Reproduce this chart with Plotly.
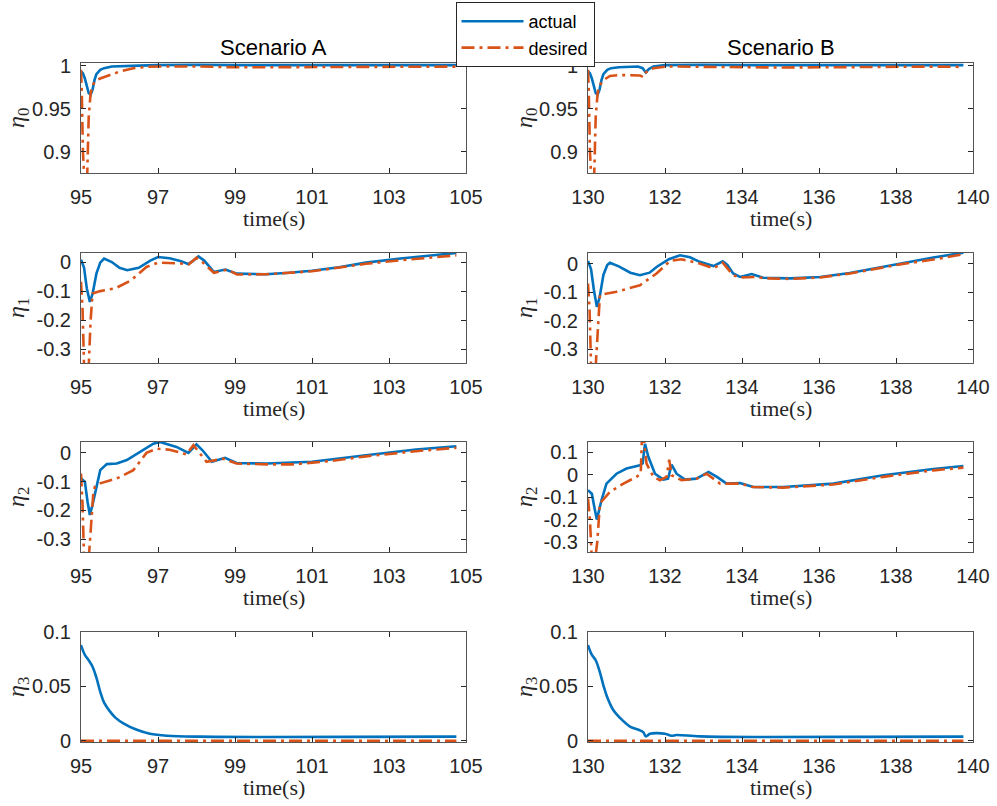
import plotly.graph_objects as go

# ---------------- data ----------------
# Scenario A
tA_e0_act = [95.0, 95.05, 95.1, 95.15, 95.2, 95.25, 95.3, 95.35, 95.4, 95.5, 95.6, 95.8, 96.0, 96.5, 97, 98, 99, 100, 101, 102, 103, 104, 104.75]
A_e0_act = [0.993, 0.991, 0.985, 0.975, 0.968, 0.966, 0.972, 0.983, 0.990, 0.995, 0.997, 0.999, 0.9995, 1.0, 1.0005, 1.001, 1.0005, 1.0005, 1.0005, 1.0005, 1.001, 1.001, 1.0005]
tA_e0_des = [95.0, 95.02, 95.05, 95.08, 95.12, 95.16, 95.2, 95.25, 95.3, 95.36, 95.5, 95.75, 96.0, 96.36, 96.7, 97.05, 98, 99, 100, 101, 102, 103, 104, 104.75]
A_e0_des = [0.995, 0.97, 0.90, 0.84, 0.84, 0.87, 0.94, 0.968, 0.976, 0.982, 0.985, 0.989, 0.993, 0.997, 0.9985, 0.999, 0.999, 0.998, 0.998, 0.9982, 0.9985, 0.9988, 0.9988, 0.9988]

tA_e1_act = [95.0, 95.08, 95.15, 95.23, 95.3, 95.4, 95.5, 95.6, 95.8, 96.0, 96.2, 96.5, 96.8, 97.0, 97.3, 97.6, 97.78, 97.9, 98.05, 98.2, 98.45, 98.6, 98.75, 99.05, 99.4, 99.8, 100.4, 101.0, 101.7, 102.4, 103.3, 104.0, 104.75]
A_e1_act = [0.008, -0.02, -0.09, -0.137, -0.11, -0.04, -0.002, 0.012, 0.0, -0.02, -0.028, -0.02, 0.005, 0.017, 0.013, 0.003, -0.007, 0.003, 0.019, 0.005, -0.034, -0.03, -0.026, -0.04, -0.041, -0.042, -0.037, -0.03, -0.018, -0.002, 0.012, 0.022, 0.031]
tA_e1_des = [95.0, 95.04, 95.08, 95.14, 95.2, 95.25, 95.3, 95.5, 95.9, 96.3, 96.7, 97.0, 97.6, 97.8, 98.0, 98.15, 98.45, 98.8, 99.05, 99.8, 101.0, 102.4, 103.3, 104.75]
A_e1_des = [-0.068, -0.16, -0.36, -0.40, -0.36, -0.2, -0.108, -0.1, -0.09, -0.063, -0.017, -0.002, -0.005, -0.008, 0.015, 0.0, -0.037, -0.026, -0.043, -0.042, -0.032, -0.006, 0.006, 0.023]

tA_e2_act = [95.0, 95.1, 95.17, 95.23, 95.3, 95.4, 95.5, 95.67, 95.93, 96.19, 96.53, 96.88, 97.05, 97.48, 97.79, 97.88, 98.0, 98.15, 98.4, 98.74, 99.04, 99.82, 101.0, 102.4, 103.7, 104.75]
A_e2_act = [-0.089, -0.1, -0.17, -0.216, -0.18, -0.118, -0.06, -0.039, -0.037, -0.025, 0.003, 0.032, 0.038, 0.021, 0.0, 0.012, 0.03, 0.01, -0.031, -0.017, -0.035, -0.037, -0.031, -0.008, 0.012, 0.023]
tA_e2_des = [95.0, 95.04, 95.08, 95.14, 95.2, 95.26, 95.32, 95.36, 95.5, 95.93, 96.36, 96.7, 96.97, 97.3, 97.74, 97.92, 98.08, 98.26, 98.7, 99.04, 99.82, 100.5, 101.5, 102.4, 103.7, 104.75]
A_e2_des = [-0.072, -0.18, -0.37, -0.40, -0.37, -0.25, -0.14, -0.118, -0.106, -0.089, -0.06, 0.0, 0.015, 0.011, -0.005, 0.027, 0.0, -0.031, -0.02, -0.037, -0.04, -0.04, -0.028, -0.012, 0.006, 0.018]

tA_e3_act = [95.0, 95.05, 95.1, 95.2, 95.3, 95.4, 95.5, 95.6, 95.75, 95.9, 96.1, 96.45, 96.79, 97.23, 98.1, 99.82, 102.0, 104.75]
A_e3_act = [0.088, 0.083, 0.079, 0.074, 0.068, 0.058, 0.045, 0.035, 0.027, 0.021, 0.016, 0.01, 0.0064, 0.0046, 0.0037, 0.0034, 0.0035, 0.0037]
tA_e3_des = [95.0, 104.75]
A_e3_des = [0.0, 0.0]

# Scenario B
tB_e0_act = [130.0, 130.05, 130.1, 130.15, 130.2, 130.25, 130.3, 130.35, 130.4, 130.5, 130.6, 130.8, 131.0, 131.3, 131.42, 131.5, 131.58, 131.7, 132.0, 133.0, 134.0, 135.0, 136.0, 137.0, 138.0, 139.0, 139.75]
B_e0_act = [0.993, 0.991, 0.985, 0.975, 0.968, 0.966, 0.972, 0.983, 0.990, 0.995, 0.997, 0.998, 0.9985, 0.999, 0.997, 0.992, 0.996, 0.999, 1.0005, 1.001, 1.0005, 1.0005, 1.0005, 1.001, 1.001, 1.0005, 1.0005]
tB_e0_des = [130.0, 130.02, 130.05, 130.08, 130.12, 130.16, 130.2, 130.25, 130.3, 130.4, 130.57, 130.8, 131.2, 131.35, 131.44, 131.5, 131.7, 132.04, 133.0, 134.0, 135.0, 136.0, 137.0, 138.0, 139.0, 139.75]
B_e0_des = [0.995, 0.97, 0.90, 0.84, 0.84, 0.87, 0.94, 0.968, 0.977, 0.983, 0.988, 0.989, 0.989, 0.9885, 0.9865, 0.992, 0.997, 0.999, 0.9985, 0.998, 0.9978, 0.998, 0.9985, 0.9988, 0.9988, 0.9985]

tB_e1_act = [130.0, 130.08, 130.15, 130.23, 130.3, 130.4, 130.5, 130.57, 130.8, 131.1, 131.35, 131.6, 131.78, 132.1, 132.39, 132.65, 132.9, 133.26, 133.5, 133.62, 133.77, 133.95, 134.25, 134.55, 135.25, 136.03, 136.8, 138.1, 138.97, 139.75]
B_e1_act = [0.009, -0.02, -0.09, -0.152, -0.12, -0.04, -0.005, 0.003, -0.01, -0.032, -0.041, -0.032, -0.012, 0.015, 0.029, 0.022, 0.006, -0.009, 0.008, -0.005, -0.035, -0.047, -0.037, -0.05, -0.052, -0.047, -0.033, 0.0, 0.021, 0.038]
tB_e1_des = [130.0, 130.04, 130.08, 130.14, 130.2, 130.26, 130.31, 130.74, 131.35, 131.78, 132.13, 132.43, 132.9, 133.26, 133.5, 133.77, 133.95, 134.3, 134.64, 135.25, 136.03, 136.8, 138.1, 138.97, 139.75]
B_e1_des = [-0.07, -0.16, -0.36, -0.40, -0.36, -0.2, -0.11, -0.099, -0.076, -0.035, 0.009, 0.015, 0.0, -0.017, 0.003, -0.041, -0.049, -0.047, -0.052, -0.054, -0.049, -0.035, -0.003, 0.014, 0.033]

tB_e2_act = [130.0, 130.1, 130.17, 130.23, 130.35, 130.48, 130.74, 131.0, 131.35, 131.42, 131.48, 131.57, 131.74, 131.96, 132.08, 132.17, 132.3, 132.52, 132.82, 133.13, 133.35, 133.6, 133.95, 134.29, 135.07, 136.37, 137.67, 138.97, 139.75]
B_e2_act = [-0.069, -0.085, -0.15, -0.2, -0.114, -0.04, 0.004, 0.027, 0.041, 0.05, 0.137, 0.078, 0.004, -0.022, -0.018, 0.044, 0.004, -0.022, -0.018, 0.012, -0.01, -0.04, -0.037, -0.055, -0.055, -0.04, -0.003, 0.025, 0.038]
tB_e2_des = [130.0, 130.05, 130.1, 130.17, 130.24, 130.31, 130.57, 130.92, 131.26, 131.37, 131.4, 131.45, 131.52, 131.7, 131.87, 132.04, 132.11, 132.17, 132.43, 132.82, 133.08, 133.43, 133.95, 134.29, 135.07, 136.37, 137.67, 138.97, 139.75]
B_e2_des = [-0.106, -0.2, -0.38, -0.40, -0.3, -0.128, -0.077, -0.04, -0.01, 0.004, 0.16, 0.16, 0.049, -0.01, -0.025, -0.01, 0.066, -0.003, -0.025, -0.018, 0.004, -0.04, -0.04, -0.055, -0.058, -0.044, -0.01, 0.019, 0.031]

tB_e3_act = [130.0, 130.05, 130.1, 130.2, 130.3, 130.4, 130.5, 130.66, 130.83, 131.09, 131.35, 131.44, 131.5, 131.61, 131.78, 132.0, 132.17, 132.3, 132.9, 134.6, 137.0, 139.75]
B_e3_act = [0.088, 0.083, 0.079, 0.074, 0.064, 0.051, 0.04, 0.028, 0.021, 0.013, 0.0095, 0.0076, 0.004, 0.0064, 0.007, 0.0064, 0.0046, 0.0052, 0.004, 0.0034, 0.0035, 0.0037]
tB_e3_des = [130.0, 139.75]
B_e3_des = [0.0, 0.0]

x_ticks_A = [95, 97, 99, 101, 103, 105]
x_ticks_B = [130, 132, 134, 136, 138, 140]
y_labels = ["η<sub>0</sub>", "η<sub>1</sub>", "η<sub>2</sub>", "η<sub>3</sub>"]
col_titles = ["Scenario A", "Scenario B"]
series_names = ["actual", "desired"]

# ---------------- layout geometry ----------------
W, H = 997, 806
col_px = [(81, 466), (588, 973)]
row_px = [(63, 173), (253, 363), (442, 552), (632, 742)]

y_ranges = {
    (0, 0): [0.875, 1.003], (0, 1): [0.875, 1.003],
    (1, 0): [-0.347, 0.031], (1, 1): [-0.349, 0.037],
    (2, 0): [-0.345, 0.038], (2, 1): [-0.344, 0.145],
    (3, 0): [-0.0012, 0.1], (3, 1): [-0.0012, 0.1],
}
y_ticks = {
    (0, 0): [0.9, 0.95, 1], (0, 1): [0.9, 0.95, 1],
    (1, 0): [-0.3, -0.2, -0.1, 0], (1, 1): [-0.3, -0.2, -0.1, 0],
    (2, 0): [-0.3, -0.2, -0.1, 0], (2, 1): [-0.3, -0.2, -0.1, 0, 0.1],
    (3, 0): [0, 0.05, 0.1], (3, 1): [0, 0.05, 0.1],
}
y_ticktext = {0.9: "0.9", 0.95: "0.95", 1: "1", -0.3: "-0.3", -0.2: "-0.2", -0.1: "-0.1", 0: "0", 0.1: "0.1", 0.05: "0.05"}

data = {
    (0, 0): (tA_e0_act, A_e0_act, tA_e0_des, A_e0_des),
    (1, 0): (tA_e1_act, A_e1_act, tA_e1_des, A_e1_des),
    (2, 0): (tA_e2_act, A_e2_act, tA_e2_des, A_e2_des),
    (3, 0): (tA_e3_act, A_e3_act, tA_e3_des, A_e3_des),
    (0, 1): (tB_e0_act, B_e0_act, tB_e0_des, B_e0_des),
    (1, 1): (tB_e1_act, B_e1_act, tB_e1_des, B_e1_des),
    (2, 1): (tB_e2_act, B_e2_act, tB_e2_des, B_e2_des),
    (3, 1): (tB_e3_act, B_e3_act, tB_e3_des, B_e3_des),
}

BLUE = "#0072BD"
ORANGE = "#D95319"
AXCOL = "#262626"
TICKFONT = dict(family="Liberation Sans, Arial, sans-serif", size=20, color=AXCOL)
SERIF = "Liberation Serif, Times New Roman, serif"

fig = go.Figure()
layout = dict(
    width=W, height=H, margin=dict(l=0, r=0, t=0, b=0, autoexpand=False),
    paper_bgcolor="white", plot_bgcolor="white",
    showlegend=True,
)
annotations = []

idx = 0
for r in range(4):
    for c in range(2):
        idx += 1
        xa = "x" if idx == 1 else f"x{idx}"
        ya = "y" if idx == 1 else f"y{idx}"
        xkey = "xaxis" if idx == 1 else f"xaxis{idx}"
        ykey = "yaxis" if idx == 1 else f"yaxis{idx}"
        x0, x1 = col_px[c]
        yt, yb = row_px[r]
        xticks = x_ticks_A if c == 0 else x_ticks_B
        layout[xkey] = dict(
            domain=[x0 / W, x1 / W], anchor=ya, range=[xticks[0], xticks[-1]],
            tickvals=xticks, ticktext=[str(v) for v in xticks],
            ticks="inside", ticklen=5, tickwidth=1, tickcolor=AXCOL,
            showline=True, linecolor="#555555", linewidth=1, mirror="allticks",
            showgrid=False, zeroline=False, tickfont=TICKFONT, ticklabelstandoff=6,
            automargin=False,
        )
        yv = y_ticks[(r, c)]
        layout[ykey] = dict(
            domain=[1 - yb / H, 1 - yt / H], anchor=xa, range=y_ranges[(r, c)],
            tickvals=yv, ticktext=[y_ticktext[v] for v in yv],
            ticks="inside", ticklen=5, tickwidth=1, tickcolor=AXCOL,
            showline=True, linecolor="#555555", linewidth=1, mirror="allticks",
            showgrid=False, zeroline=False, tickfont=TICKFONT, ticklabelstandoff=5,
            automargin=False,
        )
        ta, va, td, vd = data[(r, c)]
        fig.add_trace(go.Scatter(
            x=ta, y=va, mode="lines", name=series_names[0], xaxis=xa, yaxis=ya,
            line=dict(color=BLUE, width=2.6, shape=("spline" if r == 3 else "linear")),
            showlegend=(idx == 1),
        ))
        fig.add_trace(go.Scatter(
            x=td, y=vd, mode="lines", name=series_names[1], xaxis=xa, yaxis=ya,
            line=dict(color=ORANGE, width=2.6, dash="13px,5px,3px,5px"), showlegend=(idx == 1),
        ))
        # x label
        annotations.append(dict(
            text="time(s)", xref="paper", yref="paper",
            x=(x0 + x1) / 2 / W, y=1 - (yb + 45) / H, xanchor="center", yanchor="middle",
            showarrow=False, font=dict(family=SERIF, size=22, color=AXCOL),
        ))
        # y label
        lx = 18 if c == 0 else 526
        annotations.append(dict(
            text="<i>" + y_labels[r].replace("<sub>", "</i><sub>"), xref="paper", yref="paper",
            x=lx / W, y=1 - (yt + yb) / 2 / H, xanchor="center", yanchor="middle",
            textangle=-90, showarrow=False, font=dict(family=SERIF, size=24, color=AXCOL),
        ))

for c in range(2):
    x0, x1 = col_px[c]
    annotations.append(dict(
        text=col_titles[c], xref="paper", yref="paper",
        x=(x0 + x1) / 2 / W, y=1 - 47 / H, xanchor="center", yanchor="middle",
        showarrow=False, font=dict(family="Liberation Sans, Arial, sans-serif", size=22, color="black"),
    ))

layout["annotations"] = annotations
layout["legend"] = dict(
    x=525 / W, y=1 - 2 / H, xanchor="center", yanchor="top",
    bgcolor="white", bordercolor=AXCOL, borderwidth=1,
    font=dict(family="Liberation Sans, Arial, sans-serif", size=18, color="black"),
    itemwidth=62, tracegroupgap=0,
)
fig.update_layout(**layout)
fig.write_html("out.html")
